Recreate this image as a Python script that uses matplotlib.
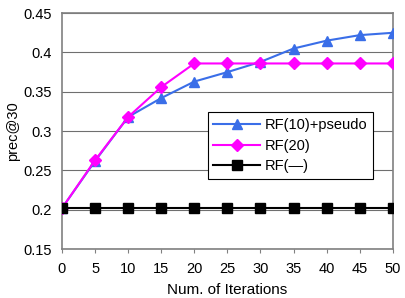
import matplotlib

matplotlib.use("Agg")
import matplotlib.pyplot as plt

plt.rcParams["font.family"] = ["Liberation Sans", "DejaVu Sans"]

iterations = [0, 5, 10, 15, 20, 25, 30, 35, 40, 45, 50]
rf10_pseudo = [0.202, 0.262, 0.318, 0.342, 0.363, 0.375, 0.388, 0.405, 0.415, 0.422, 0.425]
rf20 = [0.202, 0.263, 0.318, 0.356, 0.386, 0.386, 0.386, 0.386, 0.386, 0.386, 0.386]
rf_none = [0.202] * 11
yticks = [0.15, 0.2, 0.25, 0.3, 0.35, 0.4, 0.45]

fig = plt.figure(figsize=(4.05, 2.98), dpi=100)
ax = fig.add_axes([0.153, 0.164, 0.817, 0.792])

ax.plot(iterations, rf10_pseudo, color="#3a6ee8", marker="^", markersize=7, linewidth=1.5,
        label="RF(10)+pseudo", zorder=3)
ax.plot(iterations, rf20, color="#ff00ff", marker="D", markersize=6, linewidth=1.5,
        label="RF(20)", zorder=3)
ax.plot(iterations, rf_none, color="black", marker="s", markersize=7, linewidth=1.5,
        label="RF(\u2014)", zorder=3)

ax.set_xlim(0, 50)
ax.set_ylim(0.15, 0.45)
ax.set_xticks(iterations)
ax.set_yticks(yticks)
ax.set_yticklabels(["0.15", "0.2", "0.25", "0.3", "0.35", "0.4", "0.45"])
ax.grid(axis="y", color="#6f6f6f", linewidth=0.8)
ax.set_axisbelow(True)
for s in ax.spines.values():
    s.set_color("#808080")
    s.set_linewidth(1.2)
ax.tick_params(axis="y", length=0, labelsize=10.5, pad=7)
ax.tick_params(axis="x", length=3, color="#808080", labelsize=10.5, pad=6)

ax.set_xlabel("Num. of Iterations", fontsize=11, labelpad=5)
ax.set_ylabel("prec@30", fontsize=10.5, labelpad=3)

leg = ax.legend(loc="upper left", bbox_to_anchor=(0.44, 0.58), fontsize=10.5,
                frameon=True, fancybox=False, edgecolor="black", framealpha=1,
                borderaxespad=0, handlelength=3.2, handletextpad=0.3,
                labelspacing=0.45, borderpad=0.4)
leg.get_frame().set_linewidth(0.8)

fig.savefig("out.png", dpi=100)
